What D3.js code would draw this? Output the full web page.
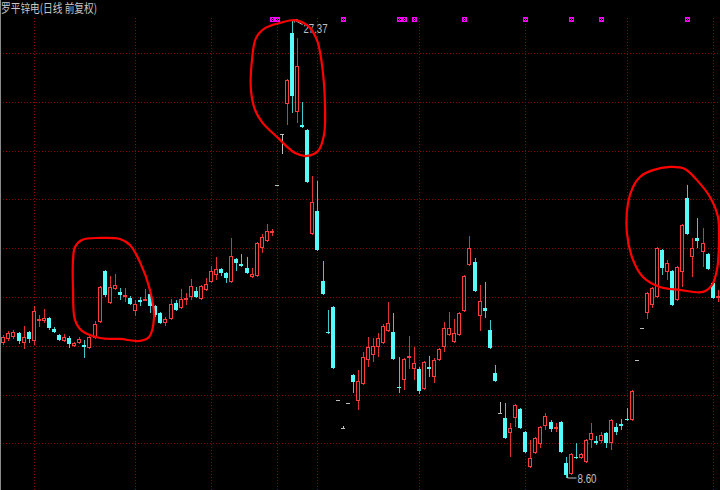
<!DOCTYPE html>
<html><head><meta charset="utf-8">
<script src="https://cdn.jsdelivr.net/npm/d3@7"></script>
<style>html,body{margin:0;padding:0;background:#000;overflow:hidden}</style>
</head><body>
<svg id="c" width="720" height="490"></svg>
<script>
const title = "罗平锌电(日线 前复权)";
const open = [14.11,14.28,14.36,14.52,14.11,14.57,14.20,15.02,15.02,15.14,
14.69,14.44,14.20,14.32,13.99,14.11,14.03,13.91,14.32,14.98,
17.07,15.75,16.33,16.21,16.00,15.96,15.43,15.88,15.88,16.12,
15.63,15.34,14.93,15.10,15.75,15.55,15.92,16.00,16.25,15.92,
16.29,16.61,16.90,17.15,16.98,16.61,17.56,17.35,17.19,16.82,
16.86,18.01,18.30,18.66,20.59,22.68,23.91,26.83,23.58,23.05,
22.84,18.58,19.52,16.66,14.57,15.59,11.78,10.63,11.66,12.80,
11.74,12.43,13.42,13.62,13.95,14.11,14.61,14.57,12.31,12.60,
13.54,13.05,13.05,12.23,13.13,12.72,13.42,13.95,14.44,14.16,
14.44,15.43,17.31,17.43,15.22,15.55,14.65,12.89,11.25,11.04,
10.43,11.04,11.41,10.47,9.03,9.61,9.98,10.71,10.88,10.63,
10.88,9.20,8.75,9.44,9.40,9.24,10.14,10.10,10.10,10.43,
10.02,10.67,10.80,11.00,10.96,13.42,14.73,15.34,15.67,16.00,
17.93,17.02,17.07,15.88,17.02,20.06,17.64,18.42,17.84,17.76,
16.57,16.00];
const high = [14.44,14.61,14.65,14.57,14.81,14.61,15.63,15.26,15.51,15.18,
14.77,14.48,14.48,14.40,14.16,14.36,14.24,14.40,15.02,16.45,
17.11,16.86,16.94,16.37,16.37,16.04,15.88,16.00,16.33,16.25,
15.67,15.39,15.18,15.92,15.88,16.33,16.16,16.74,16.41,16.49,
16.78,17.27,17.64,17.19,17.02,18.42,17.60,17.76,17.64,17.19,
18.25,18.58,18.99,18.79,20.59,22.68,24.93,27.37,26.61,23.99,
22.89,20.96,20.75,17.48,15.47,15.63,11.78,10.71,11.66,12.84,
13.01,13.75,14.36,14.32,14.52,14.89,15.80,15.34,13.54,13.50,
14.40,13.95,13.13,13.38,13.58,13.50,13.91,14.98,15.39,15.10,
15.39,16.90,18.50,17.60,16.49,16.61,15.06,13.21,11.70,11.66,
10.84,11.61,11.45,10.51,10.14,10.26,10.71,11.25,10.96,10.84,
10.92,9.44,9.61,10.02,9.61,10.18,10.84,10.30,10.47,10.47,
11.00,10.84,11.00,11.45,12.19,13.42,14.73,16.21,16.41,18.05,
17.97,17.52,17.11,17.27,18.99,20.59,18.42,19.24,18.83,17.80,
16.70,16.29];
const low = [14.03,14.20,14.28,14.07,13.87,14.11,14.03,14.77,14.93,14.65,
14.52,14.20,14.16,13.91,13.95,14.07,13.50,13.87,14.28,14.93,
16.00,15.71,16.29,15.88,15.80,15.67,15.22,15.63,15.84,15.34,
15.18,14.89,14.81,15.06,15.43,15.51,15.67,15.88,15.96,15.88,
16.25,16.57,16.70,16.86,16.57,16.57,17.07,17.23,16.94,16.78,
16.82,17.80,18.25,18.50,20.59,21.86,23.05,23.54,23.13,22.93,
20.67,18.54,17.89,16.08,14.48,13.05,11.78,10.59,11.66,12.07,
11.37,12.39,13.13,13.34,13.54,14.07,14.57,13.42,12.07,12.19,
13.05,12.60,12.02,12.19,12.72,12.48,13.38,13.75,14.40,14.11,
14.40,15.39,17.27,16.21,14.61,15.14,13.87,12.52,11.25,10.18,
9.44,10.67,10.59,9.61,8.99,9.57,9.81,10.55,10.47,10.47,
9.61,8.60,8.71,9.36,9.36,9.20,9.81,9.93,10.02,9.81,
9.73,10.34,10.55,10.92,10.92,13.42,14.73,15.10,15.55,15.96,
16.90,16.70,15.63,15.84,16.41,18.54,16.82,18.01,17.23,17.11,
15.92,15.80];
const close = [14.36,14.52,14.57,14.20,14.36,14.28,15.43,15.10,15.14,14.73,
14.57,14.24,14.36,14.07,14.11,14.28,13.95,14.36,14.89,16.41,
16.08,16.41,16.49,16.08,16.08,15.71,15.71,15.80,15.92,15.63,
15.26,14.93,15.10,15.71,15.47,15.92,15.96,16.45,16.00,16.45,
16.53,17.07,17.15,16.98,16.78,17.68,17.39,17.27,16.98,16.94,
18.21,18.46,18.70,18.70,20.59,22.68,24.89,24.24,25.47,22.97,
20.71,19.89,17.93,16.12,14.52,13.09,11.78,10.63,11.66,12.52,
12.56,13.54,13.95,13.99,14.32,14.81,14.93,13.46,12.27,13.46,
13.58,13.30,12.15,13.34,13.05,13.42,13.87,14.73,14.73,14.52,
15.34,16.86,18.01,16.25,15.84,15.43,13.91,12.56,11.25,10.22,
10.63,11.57,10.63,9.65,9.40,10.22,10.67,11.12,10.59,10.67,
9.65,8.71,9.57,9.40,9.57,10.14,10.43,10.02,10.34,10.02,
10.96,10.47,10.71,10.96,12.15,13.42,14.73,16.16,16.37,18.01,
17.19,17.39,15.67,17.23,18.95,18.58,18.01,18.30,18.21,17.15,
15.96,16.04];
const priceTicks = [10,12,14,16,18,20,22,24,26];
const monthStartIdx = [6,26,41,54,62,82,103,123,140];
const markIdx = [53,54,67,78,79,81,91,103,112,118,135];
// hand-drawn annotation loops, in (day index, price)
const loop1 = [[14.15,18.05],[15.53,18.34],[19.08,18.42],[23.03,18.38],[25.0,18.13],[26.98,17.43],[28.95,16.29],[29.74,15.14],[28.75,14.36],[26.98,14.20],[23.03,14.28],[19.08,14.32],[15.53,14.61],[14.15,15.06],[13.76,16.29],[13.76,17.52]];
const loop2 = [[57.6,21.90],[59.94,21.78],[62.11,21.98],[63.29,22.64],[63.49,23.87],[62.9,25.51],[61.91,26.53],[60.13,27.11],[57.57,27.35],[54.61,27.23],[51.65,27.02],[49.87,26.61],[49.08,25.71],[48.88,24.48],[49.67,23.68],[51.06,23.17],[54.21,22.52]];
const loop3 = [[125.66,20.92],[128.22,21.2],[131.58,21.33],[134.54,21.25],[136.9,20.79],[139.47,20.1],[141.05,19.28],[141.25,18.21],[140.85,17.11],[139.86,16.49],[138.09,16.21],[133.55,16.29],[129.6,16.41],[126.25,16.82],[124.28,17.52],[123.09,18.62],[123.29,19.85],[124.28,20.51]];

const W = 720, H = 490;
const svg = d3.select("#c");
svg.append("rect").attr("width", W).attr("height", H).attr("fill", "#000");

const x = d3.scaleLinear().domain([0, open.length - 1]).range([3.3, 717.7]);
const y = d3.scaleLinear().domain([10, 26]).range([443.4, 53]);
const plotTop = 18;

const UP = "#ff3b3b", UPW = "#e03030", DN = "#54fcfc", DNW = "#3ccaca", FLAT = "#c0c0c0", GRID = "#8c0000";

// grid
const g = svg.append("g");
g.selectAll("line.h").data(priceTicks).join("line")
  .attr("x1", 0).attr("x2", W)
  .attr("y1", d => Math.round(y(d)) + 0.5).attr("y2", d => Math.round(y(d)) + 0.5)
  .attr("stroke", GRID).attr("stroke-width", 1).attr("stroke-dasharray", "1,2");
g.selectAll("line.v").data(monthStartIdx).join("line")
  .attr("x1", d => Math.round(x(d)) + 0.5).attr("x2", d => Math.round(x(d)) + 0.5)
  .attr("y1", plotTop).attr("y2", H)
  .attr("stroke", GRID).attr("stroke-width", 1).attr("stroke-dasharray", "1,2");
svg.append("line").attr("x1", 0.5).attr("x2", 0.5).attr("y1", 0).attr("y2", H)
  .attr("stroke", "#8a8a8a").attr("stroke-width", 1);

// candles
const cg = svg.append("g");
open.forEach((o, i) => {
  const c = close[i], hi = high[i], lo = low[i];
  const cx = Math.round(x(i));
  const wx = cx + 0.5;
  const yT = Math.round(y(Math.max(o, c)));
  const yB = Math.round(y(Math.min(o, c)));
  const yH = Math.round(y(hi)), yL = Math.round(y(lo));
  if (c > o) {
    if (yH < yT) cg.append("line").attr("x1", wx).attr("x2", wx).attr("y1", yH).attr("y2", yT).attr("stroke", UPW);
    if (yL > yB) cg.append("line").attr("x1", wx).attr("x2", wx).attr("y1", yB).attr("y2", yL).attr("stroke", UPW);
    if (yB - yT >= 2) {
      cg.append("rect").attr("x", cx - 1.5).attr("y", yT + 0.5).attr("width", 3).attr("height", yB - yT - 1)
        .attr("fill", "#000").attr("stroke", UP).attr("stroke-width", 1);
    } else {
      cg.append("rect").attr("x", cx - 2).attr("y", yT).attr("width", 4).attr("height", Math.max(1, yB - yT + 1)).attr("fill", UP);
    }
  } else if (c < o) {
    cg.append("line").attr("x1", wx).attr("x2", wx).attr("y1", yH).attr("y2", yL).attr("stroke", DNW);
    cg.append("rect").attr("x", cx - 2).attr("y", yT).attr("width", 4).attr("height", Math.max(1, yB - yT)).attr("fill", DN);
  } else {
    if (yL > yH) cg.append("line").attr("x1", wx).attr("x2", wx).attr("y1", yH).attr("y2", yL).attr("stroke", FLAT);
    cg.append("rect").attr("x", cx - 2).attr("y", yT).attr("width", 4).attr("height", 1).attr("fill", FLAT);
  }
});

// markers
const mg = svg.append("g");
markIdx.forEach(i => {
  const cx = Math.round(x(i)) + 0.5, cy = 19.5;
  mg.append("rect").attr("x", cx - 2).attr("y", cy - 2).attr("width", 4).attr("height", 4)
    .attr("fill", "none").attr("stroke", "#ff00ff").attr("stroke-width", 1);
  mg.append("path").attr("d", `M${cx-2},${cy-2}L${cx+2},${cy+2}M${cx+2},${cy-2}L${cx-2},${cy+2}`)
    .attr("stroke", "#ff00ff").attr("stroke-width", 1);
});

// max / min labels
const iMax = d3.maxIndex(high), iMin = d3.minIndex(low);
const xm = Math.round(x(iMax)) + 0.5, ym = y(high[iMax]);
svg.append("path").attr("d", `M${xm+1},${ym}L${xm+10},${ym+5} M${xm+1},${ym}l4,0 M${xm+1},${ym}l1,3`)
  .attr("stroke", "#c0c0c0").attr("fill", "none").attr("stroke-width", 1);
svg.append("text").attr("x", xm + 11).attr("y", ym + 13)
  .attr("font-family", "Liberation Sans, Arial, sans-serif").attr("font-size", 13.5)
  .attr("textLength", 24).attr("lengthAdjust", "spacingAndGlyphs")
  .attr("fill", "#c0c0c0").text(d3.format(".2f")(high[iMax]));
const xn = Math.round(x(iMin)) + 0.5, yn = Math.round(y(low[iMin]));
svg.append("path").attr("d", `M${xn+1},${yn-3}L${xn+1},${yn}L${xn+10},${yn}`)
  .attr("stroke", "#c0c0c0").attr("fill", "none").attr("stroke-width", 1);
svg.append("text").attr("x", xn + 11).attr("y", yn + 5)
  .attr("font-family", "Liberation Sans, Arial, sans-serif").attr("font-size", 13.5)
  .attr("textLength", 19).attr("lengthAdjust", "spacingAndGlyphs")
  .attr("fill", "#c0c0c0").text(d3.format(".2f")(low[iMin]));

// title
svg.append("text").attr("x", 1).attr("y", 13)
  .attr("font-family", "Noto Sans CJK SC, sans-serif").attr("font-size", 12)
  .attr("textLength", 96).attr("lengthAdjust", "spacingAndGlyphs")
  .attr("fill", "#c8c8c8").text(title);

// hand-drawn loops
const loopLine = d3.line().x(d => x(d[0])).y(d => y(d[1])).curve(d3.curveCatmullRomClosed.alpha(0.5));
[loop1, loop2, loop3].forEach(l => {
  svg.append("path").attr("d", loopLine(l)).attr("fill", "none")
    .attr("stroke", "#ff0000").attr("stroke-width", 2.2).attr("stroke-linejoin", "round");
});
</script>
</body></html>
